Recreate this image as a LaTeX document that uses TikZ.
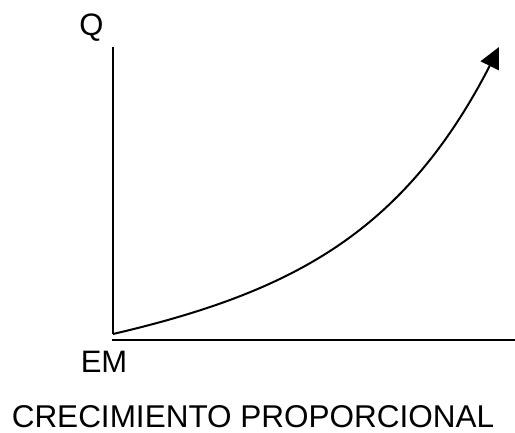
\documentclass[tikz,border=0pt]{standalone}
\usepackage{fontspec}
\setmainfont{Liberation Sans}
\usetikzlibrary{arrows.meta}
\begin{document}
\begin{tikzpicture}[x=1pt,y=-1pt,
  axis/.style={line width=2pt,black},
  growth/.style={line width=2pt,black,line join=round,-{Triangle[length=21pt,width=20pt]}},
  lbl/.style={inner sep=0pt,anchor=base,text depth=0pt,font=\fontsize{31}{36}\selectfont}]
\useasboundingbox (0,0) rectangle (515,432);
\coordinate (ytop) at (113,47);
\coordinate (o) at (113,334);
\coordinate (xo) at (112,340);
\coordinate (xend) at (515,340);
\coordinate (tip) at (499,47);
\draw[axis] (o) -- (ytop);
\draw[axis] (xo) -- (xend);
\draw[growth] (o) -- plot[domain=0:375,samples=80] ({113+\x},{334-(0.1447*\x+11.05*(exp(0.008*\x)-1))}) -- (tip);
\node[lbl] (q) at (91.5,35) {Q};
\node[lbl] (em) at (104,372) {EM};
\node[lbl,font=\fontsize{31.5}{36}\selectfont] (title) at (253,427) {CRECIMIENTO PROPORCIONAL};
\end{tikzpicture}
\end{document}
